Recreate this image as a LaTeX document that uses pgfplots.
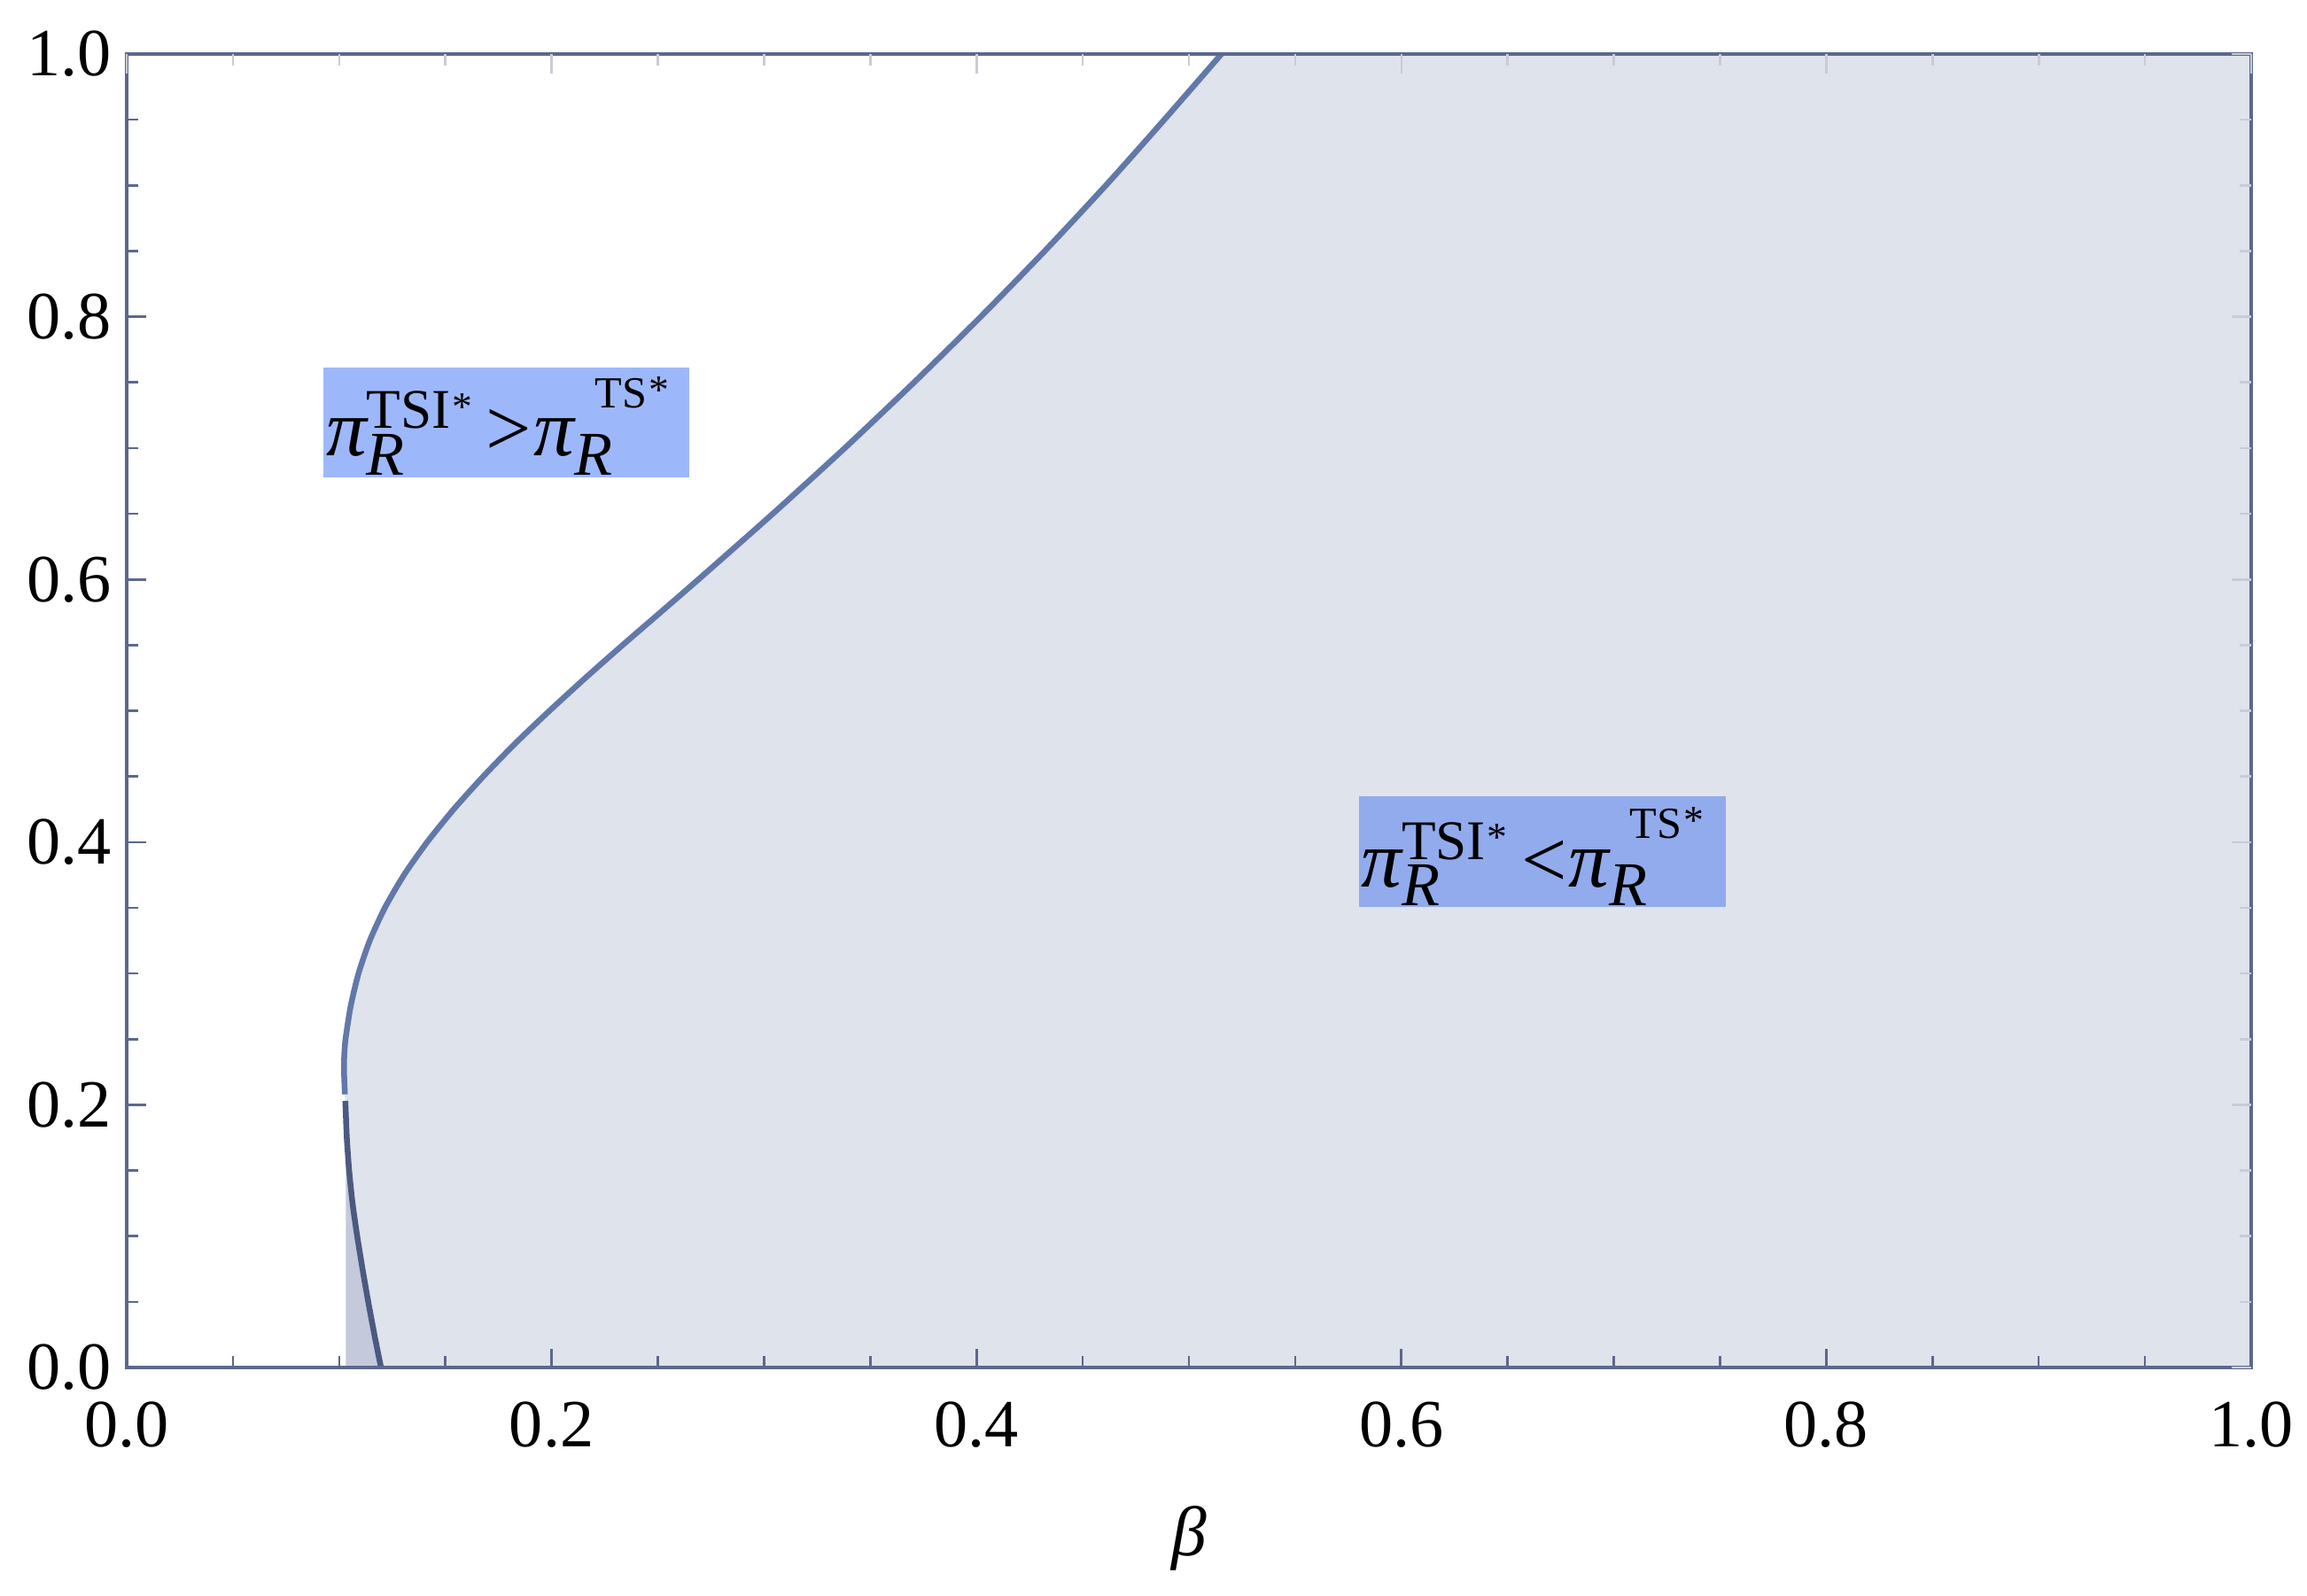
\documentclass[border=0pt]{standalone}
\usepackage{fontspec}
\setmainfont{Liberation Serif}
\usepackage{pgfplots}
\pgfplotsset{compat=1.18}
\definecolor{framecol}{HTML}{5C688C}
\definecolor{ticklight}{HTML}{C8CCD6}
\definecolor{regionfill}{HTML}{DFE3EC}
\definecolor{overlapfill}{HTML}{C4C9DB}
\definecolor{curveup}{HTML}{6278A8}
\definecolor{curvelow}{HTML}{4B5A80}
\definecolor{boxA}{HTML}{9DB8FA}
\definecolor{boxB}{HTML}{91ABEC}

% pi_R^{TSI*} <rel> pi_R^{TS*}, set by hand in the text font
\newcommand{\pilabel}[1]{%
  \fontsize{14}{14}\selectfont
  {\itshape π}%
  \rlap{\raisebox{-3.3pt}{\fontsize{10.8}{10.8}\selectfont\itshape R}}%
  \raisebox{4.8pt}{\fontsize{9.7}{9.7}\selectfont TSI\hspace{0.3pt}\raisebox{1.4pt}{\fontsize{7}{7}\selectfont *}}%
  \hspace{2.4pt}#1\hspace{0.3pt}%
  {\itshape π}%
  \rlap{\raisebox{-3.3pt}{\fontsize{10.8}{10.8}\selectfont\itshape R}}%
  \hspace{3.6pt}\raisebox{8.4pt}{\fontsize{7.7}{7.7}\selectfont TS\hspace{0.3pt}\raisebox{0.7pt}{\fontsize{7}{7}\selectfont *}}%
}

% boundary, upper branch (beta, value)
\pgfplotstableread{
b y
0.1027 0.208
0.1023 0.225
0.1024 0.2375
0.1030 0.250
0.1054 0.275
0.1091 0.300
0.1144 0.325
0.1215 0.350
0.1305 0.375
0.1414 0.400
0.1539 0.425
0.1678 0.450
0.1828 0.475
0.1990 0.500
0.2159 0.525
0.2334 0.550
0.2513 0.575
0.2691 0.600
0.3041 0.650
0.3380 0.700
0.3706 0.750
0.4020 0.800
0.4321 0.850
0.4609 0.900
0.4884 0.950
0.5153 1.000
}\uppercurve

% boundary, lower branch
\pgfplotstableread{
b y
0.1029 0.203
0.1036 0.175
0.1047 0.150
0.1063 0.125
0.1085 0.100
0.1110 0.075
0.1137 0.050
0.1166 0.025
0.1197 0.000
}\lowercurve

\pgfplotsset{
  frameaxis/.style={
    width=368pt, height=227.6pt, scale only axis,
    xmin=0, xmax=1, ymin=0, ymax=1,
    xtick={0,0.2,...,1.0}, ytick={0,0.2,...,1.0},
    minor x tick num=3, minor y tick num=3,
    tick align=inside,
    major tick length=3.3pt, minor tick length=2pt,
  },
}

\begin{document}
\begin{tikzpicture}
\begin{axis}[
    frameaxis,
    name=main,
    axis on top,
    xtick pos=left, ytick pos=left,
    axis line style={draw=framecol, line width=0.5pt},
    tick style={draw=framecol, line width=0.4pt},
    ticklabel style={font=\fontsize{11.7}{14}\selectfont},
    /pgf/number format/.cd, fixed, fixed zerofill, precision=1, assume math mode=true,
    /pgfplots/.cd,
    xticklabel style={inner sep=0pt, anchor=north, yshift=-5.8pt},
    yticklabel style={inner sep=0pt, anchor=east, xshift=-2.45pt},
    xlabel={\fontsize{12.2}{14}\selectfont\itshape β},
    xlabel style={at={(axis description cs:0.5,0)}, anchor=center, inner sep=0pt, yshift=-29.6pt},
]
% region right of the boundary
\addplot[fill=regionfill, draw=none, smooth, tension=0.4] coordinates {
  (0.1197,0.000) (0.1166,0.025) (0.1137,0.050) (0.1110,0.075) (0.1085,0.100)
  (0.1063,0.125) (0.1047,0.150) (0.1036,0.175) (0.1029,0.203) (0.1027,0.208)
  (0.1023,0.225) (0.1024,0.2375) (0.1030,0.250) (0.1054,0.275) (0.1091,0.300)
  (0.1144,0.325) (0.1215,0.350) (0.1305,0.375) (0.1414,0.400) (0.1539,0.425)
  (0.1678,0.450) (0.1828,0.475) (0.1990,0.500) (0.2159,0.525) (0.2334,0.550)
  (0.2513,0.575) (0.2691,0.600) (0.3041,0.650) (0.3380,0.700) (0.3706,0.750)
  (0.4020,0.800) (0.4321,0.850) (0.4609,0.900) (0.4884,0.950) (0.5153,1.000)
};
\addplot[fill=regionfill, draw=none] coordinates {
  (0.1197,0.000) (0.1029,0.203) (0.1027,0.208) (0.1023,0.225) (0.5153,1.000)
  (1.0,1.0) (1.0,0.0)
} -- cycle;
% overlap sliver
\addplot[fill=overlapfill, draw=none] coordinates {
  (0.1032,0.000) (0.1032,0.190) (0.1036,0.175) (0.1047,0.150) (0.1063,0.125)
  (0.1085,0.100) (0.1110,0.075) (0.1137,0.050) (0.1166,0.025) (0.1197,0.000)
} -- cycle;
\addplot[curvelow, line width=1pt, smooth, tension=0.4] table[x=b, y=y] {\lowercurve};
\addplot[curveup, line width=1pt, smooth, tension=0.4] table[x=b, y=y] {\uppercurve};

\fill[boxA] (axis cs:0.0926,0.678) rectangle (axis cs:0.265,0.7613);
\node[anchor=base west, inner sep=0pt] at (axis cs:0.0933,0.694) {\pilabel{>}};
\fill[boxB] (axis cs:0.580,0.3506) rectangle (axis cs:0.7529,0.4347);
\node[anchor=base west, inner sep=0pt] at (axis cs:0.5805,0.366) {\pilabel{<}};
\end{axis}

% light ticks on the top and right edges
\begin{axis}[
    frameaxis,
    at={(main.south west)}, anchor=south west,
    axis line style={draw=none},
    xtick pos=right, ytick pos=right,
    xticklabels={}, yticklabels={},
    tick style={draw=ticklight, line width=0.4pt},
]
\end{axis}

\pgfresetboundingbox
\path[use as bounding box] ([shift={(-21.95pt,-39.44pt)}]main.south west) rectangle ([shift={(9.67pt,9.36pt)}]main.north east);
\end{tikzpicture}
\end{document}
